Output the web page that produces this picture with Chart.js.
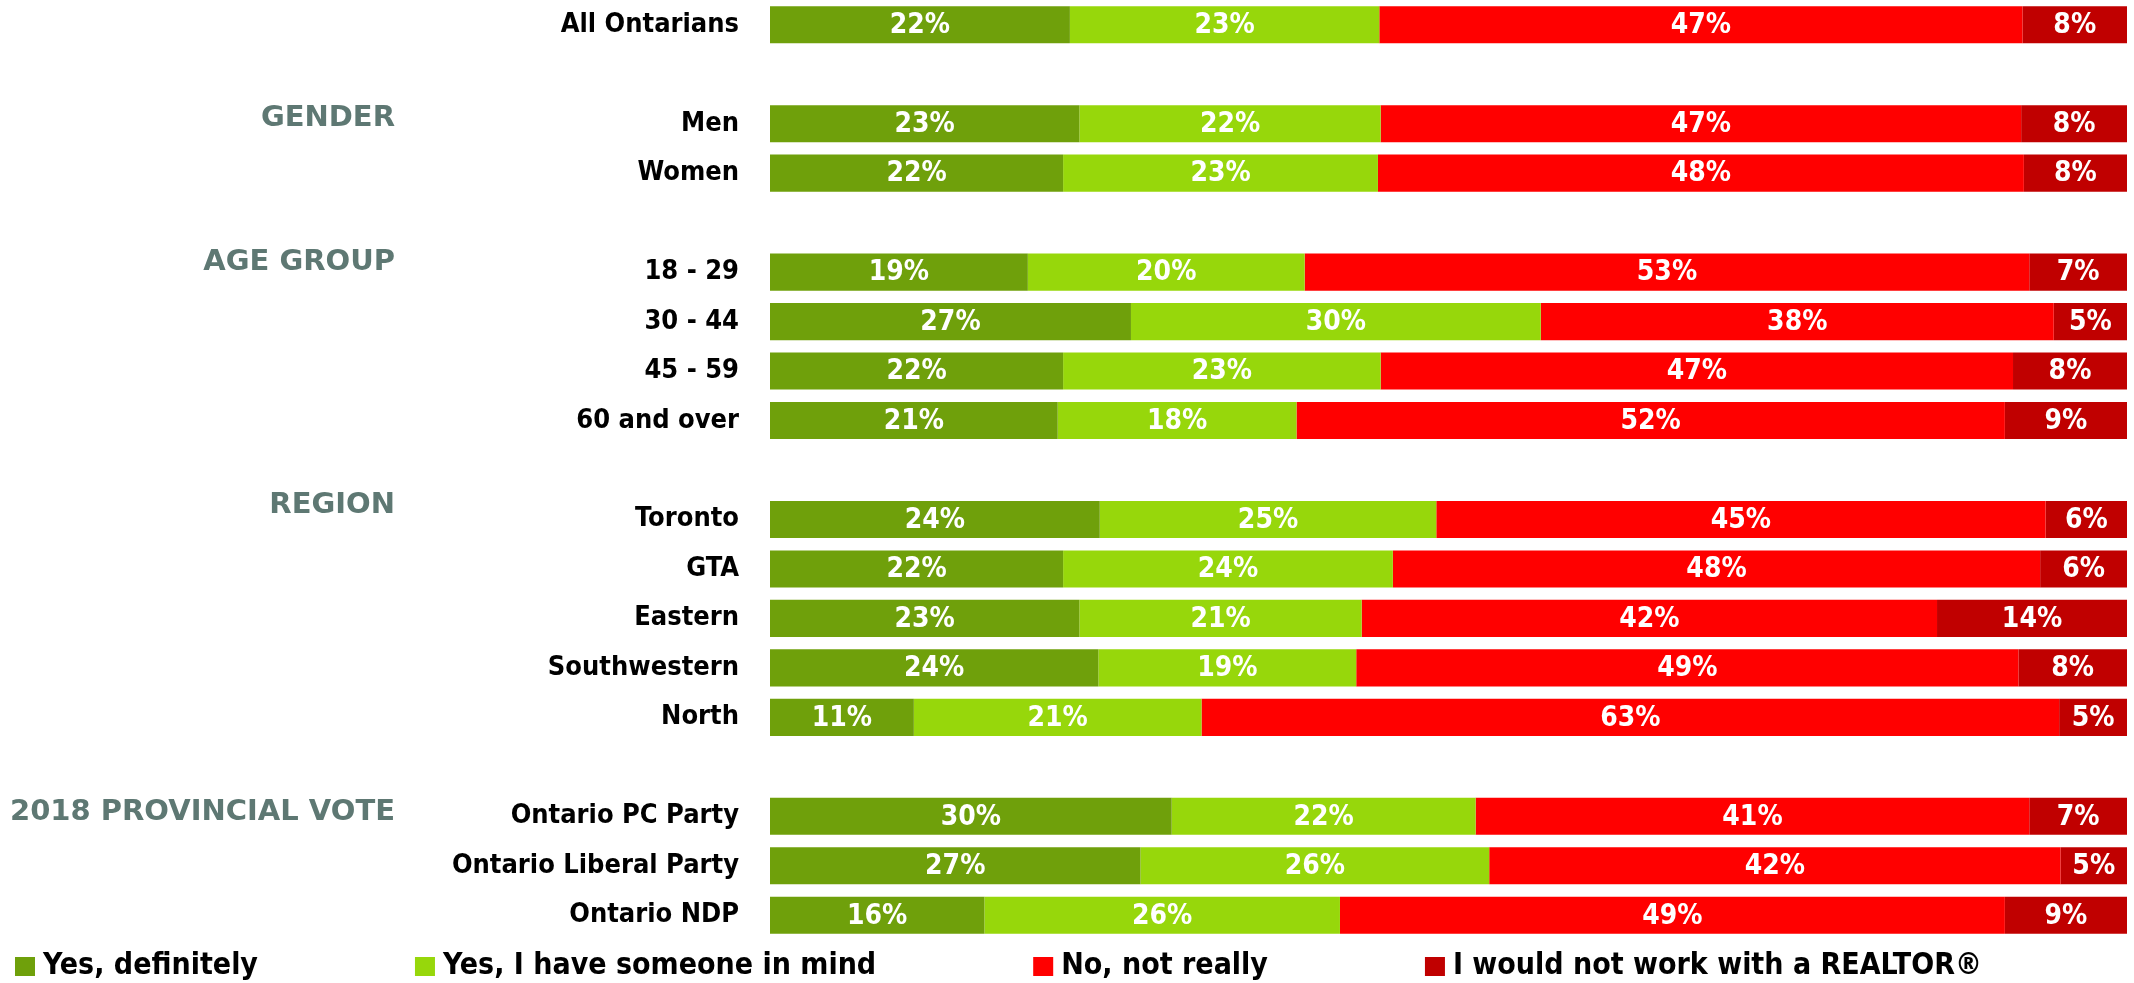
<!DOCTYPE html>
<html lang="en">
<head>
    <meta charset="utf-8" />
    <title>Would you work with a REALTOR?</title>
    <script src="https://cdnjs.cloudflare.com/ajax/libs/Chart.js/4.4.0/chart.umd.js"></script>
    <style>
        html, body { margin: 0; padding: 0; background: #fff; }
        #wrap { width: 2134px; height: 983px; position: relative; }
    </style>
</head>
<body>
<div id="wrap"><canvas id="chart"></canvas></div>
<script>
    // rows (empty strings are the gaps between groups)
    const categories = ['All Ontarians', '', 'Men', 'Women', '', '18 - 29', '30 - 44', '45 - 59', '60 and over', '',
        'Toronto', 'GTA', 'Eastern', 'Southwestern', 'North', '', 'Ontario PC Party', 'Ontario Liberal Party', 'Ontario NDP'];

    const seriesNames = ['Yes, definitely', 'Yes, I have someone in mind', 'No, not really', 'I would not work with a REALTOR®'];

    const yesDefinitely = [22.1, null, 22.8, 21.6, null, 19.0, 26.6, 21.6, 21.2, null, 24.3, 21.6, 22.8, 24.2, 10.6, null, 29.6, 27.3, 15.8];
    const yesSomeone    = [22.8, null, 22.2, 23.2, null, 20.4, 30.2, 23.4, 17.6, null, 24.8, 24.3, 20.8, 19.0, 21.2, null, 22.4, 25.7, 26.2];
    const noNotReally   = [47.4, null, 47.2, 47.6, null, 53.4, 37.8, 46.6, 52.2, null, 44.9, 47.7, 42.4, 48.8, 63.2, null, 40.8, 42.1, 49.0];
    const wouldNot      = [7.7, null, 7.8, 7.6, null, 7.2, 5.4, 8.4, 9.0, null, 6.0, 6.4, 14.0, 8.0, 5.0, null, 7.2, 4.9, 9.0];

    // group headings and the row (fractional) they sit on
    const groupHeaders = ['GENDER', 'AGE GROUP', 'REGION', '2018 PROVINCIAL VOTE'];
    const headerRows = [1.9, 4.8, 9.72, 15.92];

    const colors = ['#6FA00B', '#97D70B', '#FF0000', '#C00000'];
    const FONT = '"Liberation Sans Narrow", "DejaVu Sans Condensed", sans-serif';

    // white percentage in the middle of each segment
    const valueLabels = {
        id: 'valueLabels',
        afterDatasetsDraw(chart) {
            const ctx = chart.ctx;
            ctx.save();
            ctx.font = 'bold 28px ' + FONT;
            ctx.fillStyle = '#fff';
            ctx.textAlign = 'center';
            ctx.textBaseline = 'middle';
            chart.data.datasets.forEach((ds, i) => {
                chart.getDatasetMeta(i).data.forEach((bar, j) => {
                    const v = ds.data[j];
                    if (v == null) return;
                    ctx.fillText(Math.round(v) + '%', (bar.x + bar.base) / 2, bar.y + 1);
                });
            });
            ctx.restore();
        }
    };

    const headersAndLegend = {
        id: 'headersAndLegend',
        afterDraw(chart) {
            const ctx = chart.ctx;
            const y = chart.scales.y;
            ctx.save();
            // group headings
            ctx.font = 'bold 29px "DejaVu Sans", sans-serif';
            ctx.fillStyle = '#5E7873';
            ctx.textAlign = 'right';
            ctx.textBaseline = 'middle';
            groupHeaders.forEach((h, i) => {
                ctx.fillText(h, 395, y.getPixelForValue(headerRows[i]));
            });
            // legend
            ctx.font = 'bold 30px ' + FONT;
            ctx.textAlign = 'left';
            let x = 15;
            const ly = 966;
            chart.data.datasets.forEach(ds => {
                ctx.fillStyle = ds.backgroundColor;
                ctx.fillRect(x, ly - 9, 20, 19);
                ctx.fillStyle = '#000';
                ctx.fillText(ds.label, x + 28, ly);
                x += 28 + ctx.measureText(ds.label).width + 157;
            });
            ctx.restore();
        }
    };

    const seriesData = [yesDefinitely, yesSomeone, noNotReally, wouldNot];

    new Chart(document.getElementById('chart'), {
        type: 'bar',
        data: {
            labels: categories,
            datasets: seriesData.map((d, i) => ({
                label: seriesNames[i],
                data: d,
                backgroundColor: colors[i],
                borderWidth: 0,
                categoryPercentage: 1,
                barPercentage: 0.75
            }))
        },
        options: {
            indexAxis: 'y',
            responsive: true,
            maintainAspectRatio: false,
            animation: false,
            layout: { padding: { top: 0, bottom: 43, right: 7, left: 0 } },
            plugins: {
                legend: { display: false },
                tooltip: { enabled: false }
            },
            scales: {
                x: {
                    stacked: true,
                    min: 0,
                    max: 100,
                    display: false
                },
                y: {
                    stacked: true,
                    grid: { display: false, drawTicks: false },
                    border: { display: false },
                    afterFit: s => {
                        s.width = 770;
                        s.paddingTop = 0;
                        s.paddingBottom = 0;
                    },
                    ticks: {
                        padding: 31,
                        color: '#000',
                        font: { family: FONT, size: 27, weight: 'bold' }
                    }
                }
            }
        },
        plugins: [valueLabels, headersAndLegend]
    });
</script>
</body>
</html>
